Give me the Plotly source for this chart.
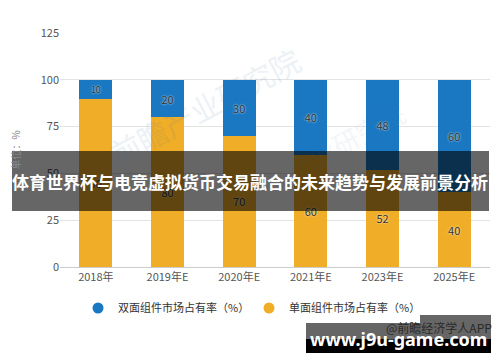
import plotly.graph_objects as go

categories = ["2018年", "2019年E", "2020年E", "2021年E", "2023年E", "2025年E"]
single_share = [90, 80, 70, 60, 52, 40]
double_share = [10, 20, 30, 40, 48, 60]
y_ticks = [0, 25, 50, 75, 100, 125]
name_double = "双面组件市场占有率（%）"
name_single = "单面组件市场占有率（%）"
color_double = "#1a78c2"
color_single = "#f0ad28"

# reference frame (pixels of the 500x362 picture)
W, H = 500, 362
ML, MR, MT, MB = 60, 10, 33, 95
PW, PH = W - ML - MR, H - MT - MB
OFF = 8  # page body margin offset

def px_x(p):
    return (p - ML) / PW

def px_y(p):
    return (H - MB - p) / PH

label_font = dict(family="Noto Sans CJK SC, sans-serif", size=11, color="#333333",
                  shadow="0px 0px 2px white")

fig = go.Figure()
fig.add_trace(go.Bar(
    x=categories, y=single_share, name=name_single, showlegend=False,
    marker=dict(color=color_single, line=dict(width=0)),
    text=single_share, textposition="inside", insidetextanchor="middle",
    textangle=0, textfont=label_font,
))
fig.add_trace(go.Bar(
    x=categories, y=double_share, name=name_double, showlegend=False,
    marker=dict(color=color_double, line=dict(width=0)),
    text=double_share, textposition="inside", insidetextanchor="middle",
    textangle=0, textfont=label_font,
))
# legend entries with round markers
for nm, col in [(name_double, color_double), (name_single, color_single)]:
    fig.add_trace(go.Scatter(
        x=[categories[0]], y=[None], mode="markers", name=nm,
        marker=dict(color=col, size=11, symbol="circle"), hoverinfo="skip",
    ))

shapes = [
    dict(type="rect", xref="paper", yref="paper", layer="above",
         x0=px_x(12), x1=px_x(489), y0=px_y(211), y1=px_y(151),
         fillcolor="rgba(0,0,0,0.6)", line=dict(width=0)),
    dict(type="rect", xref="paper", yref="paper", layer="above",
         x0=px_x(306), x1=px_x(491), y0=px_y(339), y1=px_y(315),
         fillcolor="rgba(0,0,0,0.6)", line=dict(width=0)),
    dict(type="rect", xref="paper", yref="paper", layer="above",
         x0=px_x(306), x1=px_x(491), y0=px_y(353), y1=px_y(339),
         fillcolor="#000000", line=dict(width=0)),
]

annotations = [
    dict(text="前瞻产业研究院", xref="paper", yref="paper", x=px_x(205), y=px_y(35),
         showarrow=False, textangle=-28, opacity=0.09,
         font=dict(family="Noto Sans CJK SC", size=30, color="#3a6f9f")),
    dict(text="产业研究院", xref="paper", yref="paper", x=px_x(345), y=px_y(140),
         showarrow=False, textangle=-28, opacity=0.06,
         font=dict(family="Noto Sans CJK SC", size=26, color="#3a6f9f")),
    dict(text="<b>体育世界杯与电竞虚拟货币交易融合的未来趋势与发展前景分析</b>",
         xref="paper", yref="paper", x=px_x(250), y=px_y(181),
         showarrow=False, xanchor="center", yanchor="middle",
         font=dict(family="Noto Sans CJK SC", size=17, color="#ffffff")),
    dict(text="@前瞻经济学人APP", xref="paper", yref="paper", x=px_x(494), y=px_y(327),
         showarrow=False, xanchor="right", yanchor="middle",
         font=dict(family="Noto Sans CJK SC", size=12, color="#2a2a2a")),
    dict(text="<b>www.j9u-game.com</b>", xref="paper", yref="paper", x=px_x(398), y=px_y(339),
         showarrow=False, xanchor="center", yanchor="middle",
         font=dict(family="Noto Sans, DejaVu Sans", size=18, color="#ffffff")),
]

fig.update_layout(
    width=W - OFF, height=H - OFF,
    margin=dict(l=ML - OFF, r=MR, t=MT - OFF, b=MB, pad=0, autoexpand=False),
    barmode="stack", bargap=0.54,
    plot_bgcolor="#ffffff", paper_bgcolor="#ffffff",
    font=dict(family="Noto Sans CJK SC, sans-serif", size=11, color="#555555"),
    showlegend=True,
    legend=dict(orientation="h", x=px_x(78), y=px_y(308), xanchor="left", yanchor="middle",
                font=dict(size=11, color="#333333"), itemwidth=30,
                entrywidth=126, entrywidthmode="pixels",
                traceorder="normal"),
    shapes=shapes, annotations=annotations,
    xaxis=dict(showline=True, linecolor="#cccccc", linewidth=1, ticks="",
               tickfont=dict(size=11, color="#555555")),
    yaxis=dict(range=[0, 125], tickvals=y_ticks, showgrid=True, gridcolor="#e3e3e3",
               zeroline=False, showline=False, ticks="",
               tickfont=dict(size=11, color="#555555"),
               title=dict(text="单位：%", standoff=18, font=dict(size=10, color="#888888"))),
)

fig.write_html("out.html")
